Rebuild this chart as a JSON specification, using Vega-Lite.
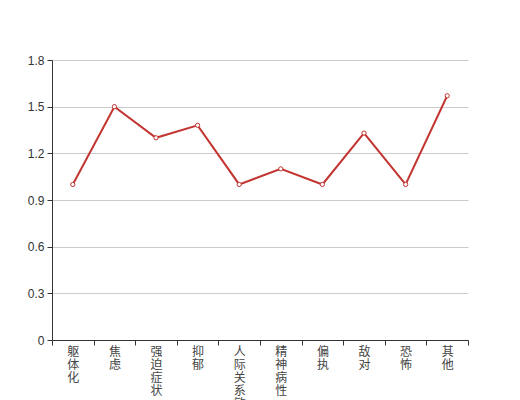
{
  "$schema": "https://vega.github.io/schema/vega-lite/v6.json",
  "autosize": "none",
  "width": 416,
  "height": 280,
  "padding": {"left": 52, "top": 60, "right": 52, "bottom": 60},
  "background": "white",
  "config": {"view": {"stroke": null}, "font": "sans-serif"},
  "data": {"values": [
    {"factor": "躯体化", "score": 1.0},
    {"factor": "焦虑", "score": 1.5},
    {"factor": "强迫症状", "score": 1.3},
    {"factor": "抑郁", "score": 1.38},
    {"factor": "人际关系敏感", "score": 1.0},
    {"factor": "精神病性", "score": 1.1},
    {"factor": "偏执", "score": 1.0},
    {"factor": "敌对", "score": 1.33},
    {"factor": "恐怖", "score": 1.0},
    {"factor": "其他", "score": 1.57}
  ]},
  "encoding": {
    "x": {
      "field": "factor", "type": "nominal", "sort": null, "bandPosition": 0.5,
      "scale": {"type": "band", "paddingInner": 0, "paddingOuter": 0},
      "axis": {
        "title": null, "tickBand": "extent", "labelAngle": 0,
        "labelExpr": "split(datum.label, '')",
        "labelAlign": "center", "labelBaseline": "top", "labelLineHeight": 13,
        "labelFontSize": 12, "labelColor": "#444", "labelFont": "Noto Sans CJK SC",
        "labelPadding": 1, "tickSize": 5, "tickColor": "#333", "domainColor": "#333",
        "grid": false
      }
    },
    "y": {
      "field": "score", "type": "quantitative",
      "scale": {"domain": [0, 1.8], "nice": false},
      "axis": {
        "title": null, "values": [0, 0.3, 0.6, 0.9, 1.2, 1.5, 1.8], "format": ".1~f",
        "labelFontSize": 12, "labelColor": "#333", "labelPadding": 3,
        "tickSize": 5, "tickColor": "#333", "domainColor": "#333",
        "gridColor": "#ccc"
      }
    }
  },
  "layer": [
    {"mark": {"type": "line", "color": "#c23531", "strokeWidth": 2}},
    {"mark": {"type": "point", "filled": true, "fill": "white", "stroke": "#c23531", "strokeWidth": 1, "size": 18, "opacity": 1}}
  ]
}
